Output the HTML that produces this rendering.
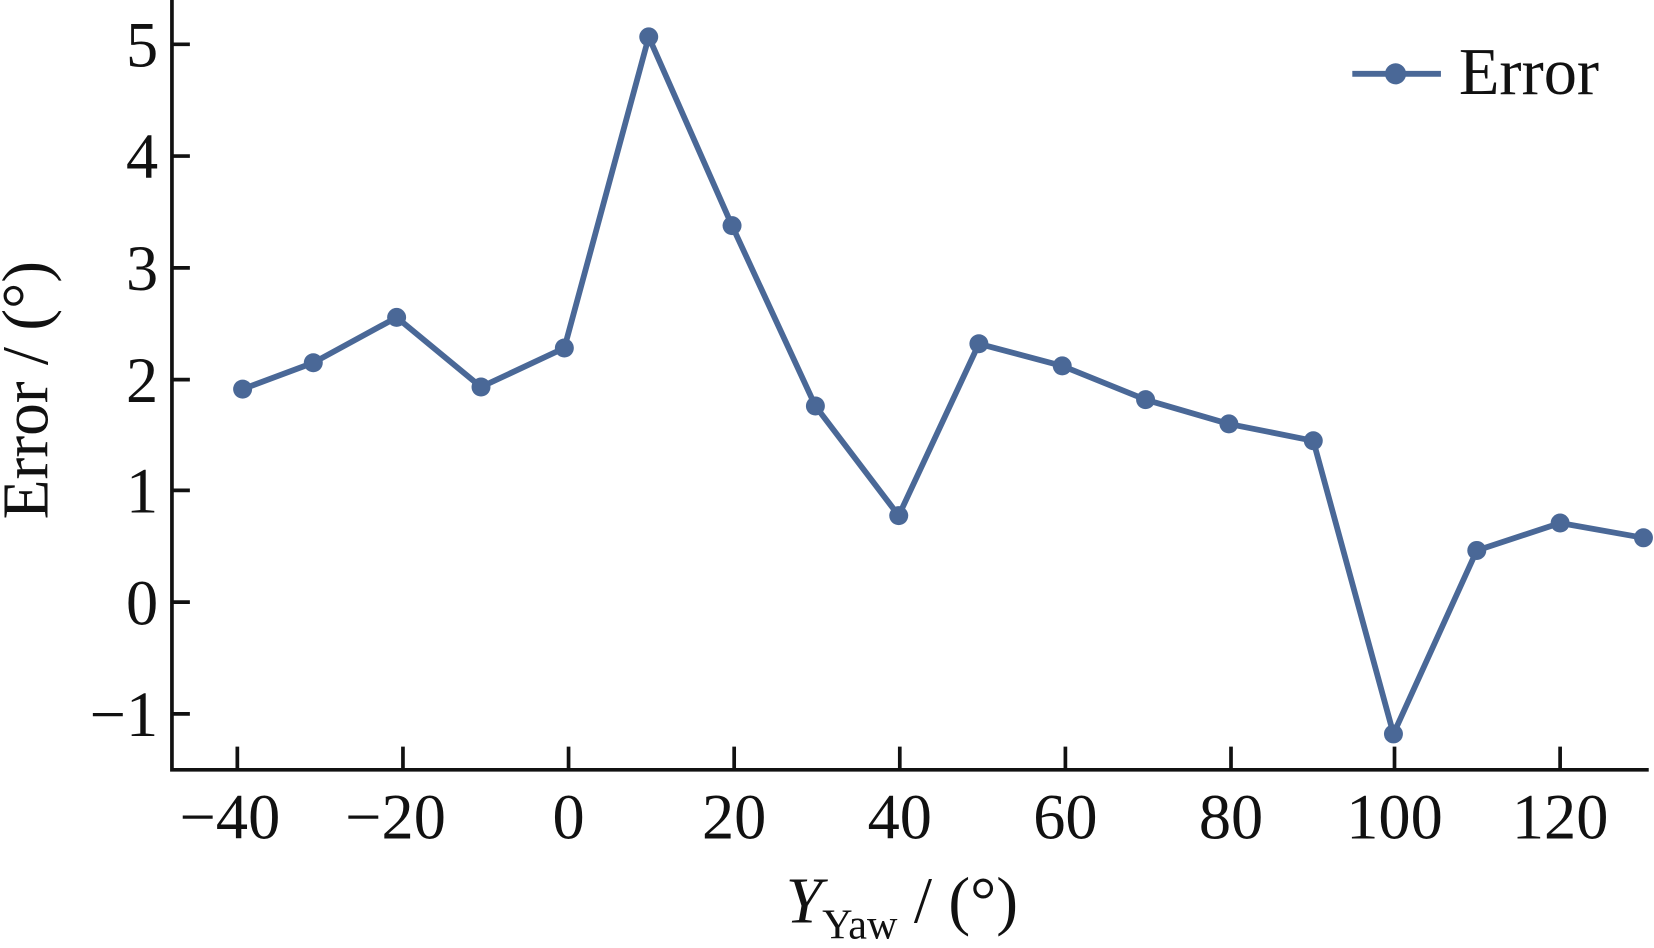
<!DOCTYPE html>
<html><head><meta charset="utf-8"><style>html,body{margin:0;padding:0;background:#fff;}svg{display:block}</style></head>
<body>
<svg width="1654" height="948" viewBox="0 0 1568 899" preserveAspectRatio="none" xmlns="http://www.w3.org/2000/svg" font-family="Liberation Serif, serif" fill="#111">
<g stroke="#111" stroke-width="3.5" fill="none">
<path d="M163,0 V730 H1563"/>
<path d="M163,42 h17 M163,148 h17 M163,254 h17 M163,360 h17 M163,465 h17 M163,571 h17 M163,677 h17"/>
<path d="M225,730 v-22 M382,730 v-22 M539,730 v-22 M696,730 v-22 M853,730 v-22 M1010,730 v-22 M1167,730 v-22 M1322,730 v-22 M1479,730 v-22"/>
</g>
<g font-size="61" text-anchor="end">
<text x="150" y="63">5</text><text x="150" y="169">4</text><text x="150" y="275">3</text><text x="150" y="381">2</text><text x="150" y="486">1</text><text x="150" y="592">0</text><text x="150" y="698">−1</text>
</g>
<g font-size="61" text-anchor="middle">
<text x="218" y="795">−40</text><text x="375" y="795">−20</text><text x="539" y="795">0</text><text x="696" y="795">20</text><text x="853" y="795">40</text><text x="1010" y="795">60</text><text x="1167" y="795">80</text><text x="1322" y="795">100</text><text x="1479" y="795">120</text>
</g>
<text x="855" y="875" font-size="62" text-anchor="middle"><tspan font-style="italic">Y</tspan><tspan font-size="40" dy="15">Yaw</tspan><tspan dy="-15"> / (°)</tspan></text>
<text transform="translate(45,370) rotate(-90)" font-size="62" text-anchor="middle">Error / (°)</text>
<g stroke="#4a6897" stroke-width="5.5" fill="none" stroke-linejoin="round">
<polyline points="230,369 297,344 376,301 456,367 535,330 615,35 694,214 773,385 852,489 928,326 1007,347 1086,379 1165,402 1245,418 1321,696 1400,522 1479,496 1558,510"/>
<path d="M1282,70 H1366"/>
</g>
<g fill="#4a6897">
<circle cx="230" cy="369" r="9"/><circle cx="297" cy="344" r="9"/><circle cx="376" cy="301" r="9"/><circle cx="456" cy="367" r="9"/><circle cx="535" cy="330" r="9"/><circle cx="615" cy="35" r="9"/><circle cx="694" cy="214" r="9"/><circle cx="773" cy="385" r="9"/><circle cx="852" cy="489" r="9"/><circle cx="928" cy="326" r="9"/><circle cx="1007" cy="347" r="9"/><circle cx="1086" cy="379" r="9"/><circle cx="1165" cy="402" r="9"/><circle cx="1245" cy="418" r="9"/><circle cx="1321" cy="696" r="9"/><circle cx="1400" cy="522" r="9"/><circle cx="1479" cy="496" r="9"/><circle cx="1558" cy="510" r="9"/>
<circle cx="1323" cy="70" r="10"/>
</g>
<text x="1383" y="89" font-size="63">Error</text>
</svg>
</body></html>
